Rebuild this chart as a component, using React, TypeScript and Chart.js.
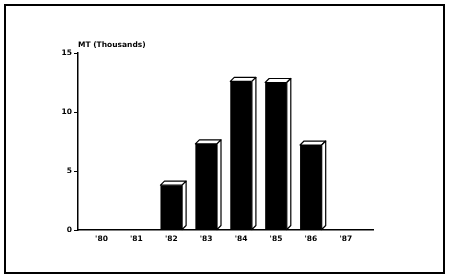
import React, { useEffect, useRef } from "react";
import { Chart, registerables } from "chart.js";

Chart.register(...registerables);

const categories = ["'80", "'81", "'82", "'83", "'84", "'85", "'86", "'87"];
const values = [0, 0, 3.8, 7.3, 12.6, 12.5, 7.2, 0];
const yTicks = [0, 5, 10, 15];
const yTitle = "MT (Thousands)";

const FONT = "'DejaVu Sans', sans-serif";

const bar3d = {
  id: "bar3d",
  afterDatasetsDraw(chart: any) {
    const ctx = chart.ctx;
    const meta = chart.getDatasetMeta(0);
    const d = 4;
    ctx.save();
    ctx.lineWidth = 1.2;
    ctx.strokeStyle = "#000";
    ctx.fillStyle = "#fff";
    ctx.lineJoin = "round";
    meta.data.forEach((el: any, i: number) => {
      if (!values[i]) return;
      const { x, y, base, width } = el.getProps(["x", "y", "base", "width"], true);
      const l = x - width / 2;
      const r = x + width / 2;
      ctx.beginPath();
      ctx.moveTo(l, y);
      ctx.lineTo(l + d, y - d);
      ctx.lineTo(r + d, y - d);
      ctx.lineTo(r, y);
      ctx.closePath();
      ctx.fill();
      ctx.stroke();
      ctx.beginPath();
      ctx.moveTo(r, y);
      ctx.lineTo(r + d, y - d);
      ctx.lineTo(r + d, base - d);
      ctx.lineTo(r, base);
      ctx.closePath();
      ctx.fill();
      ctx.stroke();
    });
    ctx.restore();
  },
};

const topTitle = {
  id: "topTitle",
  afterDraw(chart: any) {
    const ctx = chart.ctx;
    const a = chart.chartArea;
    ctx.save();
    ctx.font = `bold 7.5px ${FONT}`;
    ctx.fillStyle = "#000";
    ctx.textAlign = "left";
    ctx.textBaseline = "alphabetic";
    ctx.fillText(yTitle, a.left, a.top - 6);
    ctx.restore();
  },
};

export default function App() {
  const ref = useRef<HTMLCanvasElement>(null);
  useEffect(() => {
    document.body.style.margin = "0";
    const chart = new Chart(ref.current!, {
      type: "bar",
      data: {
        datasets: [
          {
            data: values.map((v, i) => ({ x: i, y: v })),
            backgroundColor: "#000",
            borderWidth: 0,
            barPercentage: 0.62,
            categoryPercentage: 1,
          },
        ],
      },
      options: {
        animation: false,
        responsive: false,
        maintainAspectRatio: false,
        layout: { padding: { left: 40, right: 77, top: 53, bottom: 32 } },
        plugins: { legend: { display: false }, tooltip: { enabled: false }, title: { display: false } },
        scales: {
          x: {
            type: "linear",
            offset: false,
            min: -0.673,
            max: 7.78,
            afterFit: (s: any) => {
              s.height = 16;
            },
            afterBuildTicks: (s: any) => {
              s.ticks = categories.map((_, i) => ({ value: i }));
            },
            ticks: {
              callback: (v: any) => categories[v] ?? "",
              font: { family: FONT, size: 7.5, weight: "bold" },
              color: "#000",
              padding: 5,
              maxRotation: 0,
              autoSkip: false,
            },
            grid: { drawOnChartArea: false, drawTicks: false, offset: false },
            border: { display: true, color: "#000", width: 1.5 },
          },
          y: {
            min: 0,
            max: 15,
            afterFit: (s: any) => {
              s.width = 38;
            },
            afterBuildTicks: (s: any) => {
              s.ticks = yTicks.map((v) => ({ value: v }));
            },
            ticks: {
              font: { family: FONT, size: 7.5, weight: "bold" },
              color: "#000",
              padding: 2,
            },
            grid: { drawOnChartArea: false, tickLength: 4, color: "#000", lineWidth: 1 },
            border: { display: true, color: "#000", width: 1.5 },
          },
        },
      },
      plugins: [bar3d, topTitle],
    });
    return () => chart.destroy();
  }, []);
  return (
    <div style={{ position: "fixed", left: 0, top: 0, width: 450, height: 278, background: "#fff" }}>
      <canvas ref={ref} width={450} height={278} style={{ position: "absolute", left: 0, top: 0 }} />
      <div
        style={{
          position: "absolute",
          left: 4,
          top: 4,
          width: 437,
          height: 266,
          border: "2px solid #000",
          pointerEvents: "none",
        }}
      />
    </div>
  );
}
